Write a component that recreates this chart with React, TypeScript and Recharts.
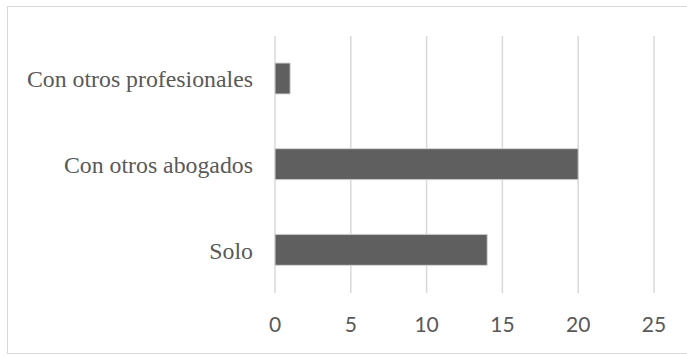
import React from "react";
import { BarChart, Bar, XAxis, YAxis, CartesianGrid } from "recharts";

const categories = ["Con otros profesionales", "Con otros abogados", "Solo"];
const values = [1, 20, 14];
const xTicks = [0, 5, 10, 15, 20, 25];

const data = categories.map((c, i) => ({ name: c, value: values[i] }));

export default function App() {
  return (
    <div style={{ position: "absolute", left: 0, top: 0, width: 687, height: 356, overflow: "hidden", background: "#fff" }}>
      <div
        style={{
          position: "absolute",
          left: 7,
          top: 6,
          width: 700,
          height: 348,
          border: "1.5px solid #d9d9d9",
          boxSizing: "border-box",
        }}
      />
      <div style={{ position: "absolute", left: 0, top: 0 }}>
        <BarChart
          width={687}
          height={356}
          data={data}
          layout="vertical"
          margin={{ top: 36, right: 33, bottom: 23, left: 0 }}
        >
          <CartesianGrid horizontal={false} stroke="#d9d9d9" strokeWidth={1.5} />
          <XAxis
            type="number"
            domain={[0, 25]}
            ticks={xTicks}
            axisLine={false}
            tickLine={false}
            tickMargin={18}
            height={40}
            interval={0}
            tick={{ fill: "#595959", fontSize: 21, fontFamily: "Lato, 'Open Sans', sans-serif" }}
          />
          <YAxis
            type="category"
            dataKey="name"
            width={275}
            axisLine={false}
            tickLine={false}
            tickMargin={16}
            interval={0}
            tick={{ fill: "#595959", fontSize: 23.8, fontFamily: "'Liberation Serif', serif" }}
          />
          <Bar dataKey="value" fill="#5f5f5f" stroke="#d4d4d4" strokeWidth={1} barSize={31} isAnimationActive={false} />
        </BarChart>
      </div>
    </div>
  );
}
